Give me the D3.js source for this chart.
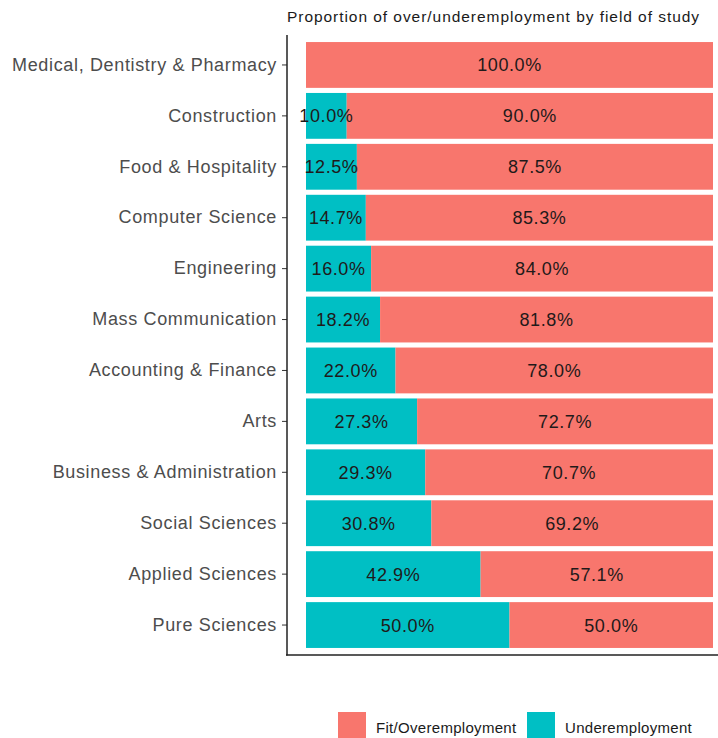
<!DOCTYPE html>
<html><head><meta charset="utf-8">
<script src="https://cdn.jsdelivr.net/npm/d3@7"></script>
<style>body{margin:0;background:#fff;}svg{display:block;font-family:Arial,"Liberation Sans",sans-serif;}</style>
</head><body>
<svg id="c" width="718" height="738"></svg>
<script>
const fields = ["Medical, Dentistry & Pharmacy","Construction","Food & Hospitality","Computer Science","Engineering","Mass Communication","Accounting & Finance","Arts","Business & Administration","Social Sciences","Applied Sciences","Pure Sciences"];
const under = [0, 10.0, 12.5, 14.7, 16.0, 18.2, 22.0, 27.3, 29.3, 30.8, 42.9, 50.0];
const fit = [100.0, 90.0, 87.5, 85.3, 84.0, 81.8, 78.0, 72.7, 70.7, 69.2, 57.1, 50.0];
const seriesNames = ["Fit/Overemployment","Underemployment"];
const colors = ["#F8766D","#00BFC4"];
const title = "Proportion of over/underemployment by field of study";

const svg = d3.select("#c");
const x = d3.scaleLinear().domain([0,100]).range([306,713]);
const y = d3.scaleBand().domain(fields).range([39.5,650.5]).paddingInner(0.1).paddingOuter(0.05);

svg.append("text").attr("x",287).attr("y",22).attr("font-size",15.5).attr("letter-spacing",0.95).attr("fill","#1a1a1a").text(title);

const rows = fields.map((f,i)=>({f,u:under[i],o:fit[i]}));
const g = svg.append("g");
function lab(cx, cy, t){
  g.append("text").attr("x",cx).attr("y",cy).attr("dy","0.36em").attr("text-anchor","middle").attr("font-size",18).attr("letter-spacing",0.6).attr("fill","#1f1a1a").text(t);
}
rows.forEach(r=>{
  if(r.u>0){
    g.append("rect").attr("x",x(0)).attr("y",y(r.f)).attr("width",x(r.u)-x(0)).attr("height",y.bandwidth()).attr("fill",colors[1]);
  }
  g.append("rect").attr("x",x(r.u)).attr("y",y(r.f)).attr("width",x(r.u+r.o)-x(r.u)).attr("height",y.bandwidth()).attr("fill",colors[0]);
});
rows.forEach(r=>{
  const cy = y(r.f)+y.bandwidth()/2;
  if(r.u>0) lab((x(0)+x(r.u))/2, cy, r.u.toFixed(1)+"%");
  lab((x(r.u)+x(r.u+r.o))/2, cy, r.o.toFixed(1)+"%");
});

const ax = svg.append("g").attr("transform","translate(287,0)").call(d3.axisLeft(y).tickSize(5).tickPadding(5));
ax.select(".domain").remove();
ax.selectAll("line").attr("stroke","#333");
ax.selectAll("text").attr("font-size",18).attr("letter-spacing",0.65).attr("fill","#4d4d4d").attr("font-family","Arial,'Liberation Sans',sans-serif");
svg.append("line").attr("x1",287).attr("x2",287).attr("y1",35).attr("y2",655.5).attr("stroke","#222").attr("stroke-width",1.5);
svg.append("line").attr("x1",286).attr("x2",718).attr("y1",655).attr("y2",655).attr("stroke","#222").attr("stroke-width",1.5);

const lg = svg.append("g");
const lx = [338,527];
seriesNames.forEach((s,i)=>{
  lg.append("rect").attr("x",lx[i]).attr("y",712).attr("width",28).attr("height",28).attr("fill",colors[i]);
  lg.append("text").attr("x",lx[i]+38).attr("y",728).attr("dy","0.35em").attr("font-size",15).attr("letter-spacing",0.3).attr("fill","#1a1a1a").text(s);
});
</script>
</body></html>
